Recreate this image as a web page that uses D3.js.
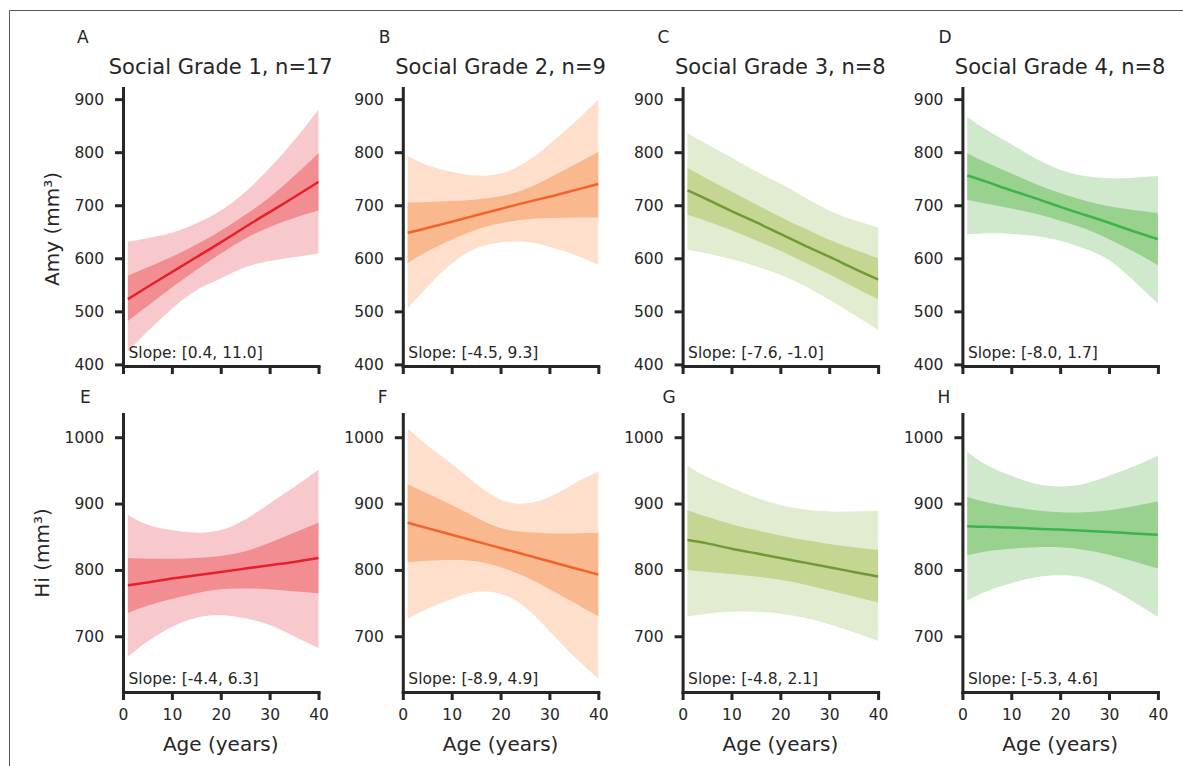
<!DOCTYPE html>
<html>
<head>
<meta charset="utf-8">
<script src="https://cdn.jsdelivr.net/npm/d3@7"></script>
<style>
  body { margin: 0; background: #fff; }
  text { font-family: "DejaVu Sans", sans-serif; fill: #262626; }
  .axis path, .axis line { stroke: #262626; stroke-width: 3; }
  .axis path { stroke-linecap: square; }
  .axis text { font-size: 15.5px; }
</style>
</head>
<body>
<div class="chart"></div>
<script>
// ages sampled along each fitted curve
var ages = [1, 5, 10, 15, 20, 25, 30, 35, 40];

var gradeTitles = ["Social Grade 1, n=17", "Social Grade 2, n=9", "Social Grade 3, n=8", "Social Grade 4, n=8"];
var panelLetters = [["A", "B", "C", "D"], ["E", "F", "G", "H"]];
var amySlopes = ["Slope: [0.4, 11.0]", "Slope: [-4.5, 9.3]", "Slope: [-7.6, -1.0]", "Slope: [-8.0, 1.7]"];
var hiSlopes = ["Slope: [-4.4, 6.3]", "Slope: [-8.9, 4.9]", "Slope: [-4.8, 2.1]", "Slope: [-5.3, 4.6]"];

var xTicks = [0, 10, 20, 30, 40];
var amyTicks = [400, 500, 600, 700, 800, 900];
var hiTicks = [700, 800, 900, 1000];

// Amy (mm3), top row
var amyMean = [
  [523, 546, 574, 602, 630, 659, 687, 715, 744],
  [648, 657, 669, 681, 693, 705, 716, 728, 740],
  [728, 711, 689, 668, 646, 624, 603, 581, 560],
  [756, 744, 728, 713, 697, 682, 667, 651, 636]
];
var amyInnerHi = [
  [567, 583, 603, 626, 652, 682, 715, 755, 798],
  [705, 706, 708, 711, 717, 730, 752, 776, 801],
  [770, 750, 726, 702, 678, 656, 635, 617, 600],
  [798, 780, 760, 740, 723, 709, 698, 691, 685]
];
var amyInnerLo = [
  [482, 510, 545, 578, 609, 637, 659, 676, 690],
  [591, 613, 635, 654, 666, 673, 676, 677, 677],
  [682, 670, 653, 634, 614, 592, 570, 546, 523],
  [710, 703, 694, 684, 671, 656, 636, 613, 587]
];
var amyOuterHi = [
  [631, 638, 648, 666, 690, 725, 770, 822, 880],
  [793, 776, 763, 756, 760, 780, 815, 855, 899],
  [836, 815, 790, 764, 741, 715, 690, 672, 658],
  [866, 842, 815, 788, 767, 755, 751, 752, 755]
];
var amyOuterLo = [
  [425, 462, 505, 540, 562, 583, 595, 602, 609],
  [506, 546, 590, 619, 630, 631, 622, 607, 588],
  [616, 609, 598, 585, 569, 548, 522, 494, 465],
  [645, 647, 646, 642, 633, 618, 597, 558, 515]
];

// Hi (mm3), bottom row
var hiMean = [
  [777, 781, 787, 792, 797, 802, 807, 812, 818],
  [871, 863, 853, 843, 833, 823, 813, 803, 793],
  [845, 840, 832, 825, 818, 811, 804, 797, 790],
  [866, 865, 864, 862, 861, 859, 857, 855, 853]
];
var hiInnerHi = [
  [818, 817, 817, 818, 821, 828, 841, 856, 871],
  [929, 915, 898, 879, 863, 857, 855, 855, 856],
  [890, 880, 869, 860, 852, 845, 839, 834, 830],
  [910, 902, 895, 890, 887, 887, 890, 896, 903]
];
var hiInnerLo = [
  [735, 746, 756, 765, 771, 772, 771, 768, 765],
  [812, 814, 815, 813, 804, 790, 771, 751, 730],
  [800, 797, 794, 790, 785, 778, 769, 760, 751],
  [822, 828, 832, 834, 834, 830, 823, 813, 802]
];
var hiOuterHi = [
  [883, 868, 860, 856, 860, 876, 900, 925, 951],
  [1013, 988, 960, 930, 906, 900, 910, 930, 948],
  [957, 940, 924, 909, 898, 891, 888, 888, 889],
  [978, 958, 942, 930, 926, 930, 942, 956, 972]
];
var hiOuterLo = [
  [669, 692, 714, 728, 732, 727, 717, 700, 682],
  [726, 741, 756, 767, 764, 744, 708, 670, 636],
  [730, 734, 737, 737, 734, 728, 718, 706, 693],
  [754, 768, 780, 789, 792, 788, 773, 752, 729]
];

var lineColors = ["#e6202a", "#f2622a", "#6f9a35", "#3bb449"];
var innerColors = ["#f28e91", "#f9b88d", "#c5d592", "#99d18f"];
var outerColors = ["#f8c9cc", "#fddfcc", "#e2ecd0", "#d0e9cc"];

var svgWidth = 1183;
var svgHeight = 766;

var svg = d3.select(".chart")
  .append("svg")
  .attr("width", svgWidth)
  .attr("height", svgHeight);

// figure frame (left and top edges visible)
svg.append("path")
  .attr("d", "M9.5,766V10.5H1183")
  .attr("fill", "none")
  .attr("stroke", "#555")
  .attr("stroke-width", 1);

var panelWidth = 195.5;
var colStep = 279.8;
var firstLeft = 123;

var rows = [
  { top: 88, bottom: 366, domain: [397, 921], ticks: amyTicks, label: "Amy (mm³)", labelX: 59, labelY: 229,
    mean: amyMean, innerHi: amyInnerHi, innerLo: amyInnerLo, outerHi: amyOuterHi, outerLo: amyOuterLo,
    slopes: amySlopes, letterY: 42.5, letterDx: [-46, -24, -25, -24], showXLabels: false },
  { top: 414, bottom: 692, domain: [616, 1035], ticks: hiTicks, label: "Hi (mm³)", labelX: 49, labelY: 553,
    mean: hiMean, innerHi: hiInnerHi, innerLo: hiInnerLo, outerHi: hiOuterHi, outerLo: hiOuterLo,
    slopes: hiSlopes, letterY: 403, letterDx: [-43, -25, -20, -25], showXLabels: true }
];

rows.forEach(function(row, r) {
  for (var c = 0; c < 4; c++) {
    var left = firstLeft + c * colStep;

    var xScale = d3.scaleLinear().domain([0, 40]).range([left, left + panelWidth]);
    var yScale = d3.scaleLinear().domain(row.domain).range([row.bottom, row.top]);

    var g = svg.append("g");

    var outerArea = d3.area()
      .curve(d3.curveNatural)
      .x(function(d, i) { return xScale(ages[i]); })
      .y0(function(d, i) { return yScale(row.outerLo[c][i]); })
      .y1(function(d) { return yScale(d); });

    var innerArea = d3.area()
      .curve(d3.curveNatural)
      .x(function(d, i) { return xScale(ages[i]); })
      .y0(function(d, i) { return yScale(row.innerLo[c][i]); })
      .y1(function(d) { return yScale(d); });

    var meanLine = d3.line()
      .curve(d3.curveNatural)
      .x(function(d, i) { return xScale(ages[i]); })
      .y(function(d) { return yScale(d); });

    g.append("path")
      .attr("d", outerArea(row.outerHi[c]))
      .attr("fill", outerColors[c]);

    g.append("path")
      .attr("d", innerArea(row.innerHi[c]))
      .attr("fill", innerColors[c]);

    g.append("path")
      .attr("d", meanLine(row.mean[c]))
      .attr("fill", "none")
      .attr("stroke", lineColors[c])
      .attr("stroke-width", 2.5);

    // axes
    var bottomAxis = d3.axisBottom(xScale)
      .tickValues(xTicks)
      .tickSizeInner(8)
      .tickSizeOuter(0)
      .tickPadding(9);
    if (!row.showXLabels) bottomAxis.tickFormat("");

    var leftAxis = d3.axisLeft(yScale)
      .tickValues(row.ticks)
      .tickFormat(d3.format("d"))
      .tickSizeInner(8)
      .tickSizeOuter(0)
      .tickPadding(11);

    g.append("g")
      .attr("class", "axis")
      .attr("transform", "translate(0," + row.bottom + ")")
      .call(bottomAxis);

    g.append("g")
      .attr("class", "axis")
      .attr("transform", "translate(" + left + ",0)")
      .call(leftAxis);

    // slope interval text
    g.append("text")
      .attr("x", left + 5.5)
      .attr("y", row.bottom - 8.5)
      .style("font-size", "15.5px")
      .text(row.slopes[c]);

    // panel letter
    g.append("text")
      .attr("x", left + row.letterDx[c])
      .attr("y", row.letterY)
      .style("font-size", "17px")
      .text(panelLetters[r][c]);

    if (r === 0) {
      g.append("text")
        .attr("x", left + panelWidth / 2)
        .attr("y", 73.5)
        .attr("text-anchor", "middle")
        .style("font-size", "21px")
        .text(gradeTitles[c]);
    } else {
      g.append("text")
        .attr("x", left + panelWidth / 2)
        .attr("y", 751)
        .attr("text-anchor", "middle")
        .style("font-size", "20px")
        .text("Age (years)");
    }

    if (c === 0) {
      g.append("text")
        .attr("transform", "translate(" + row.labelX + "," + row.labelY + ") rotate(-90)")
        .attr("text-anchor", "middle")
        .style("font-size", "20px")
        .text(row.label);
    }
  }
});
</script>
</body>
</html>
